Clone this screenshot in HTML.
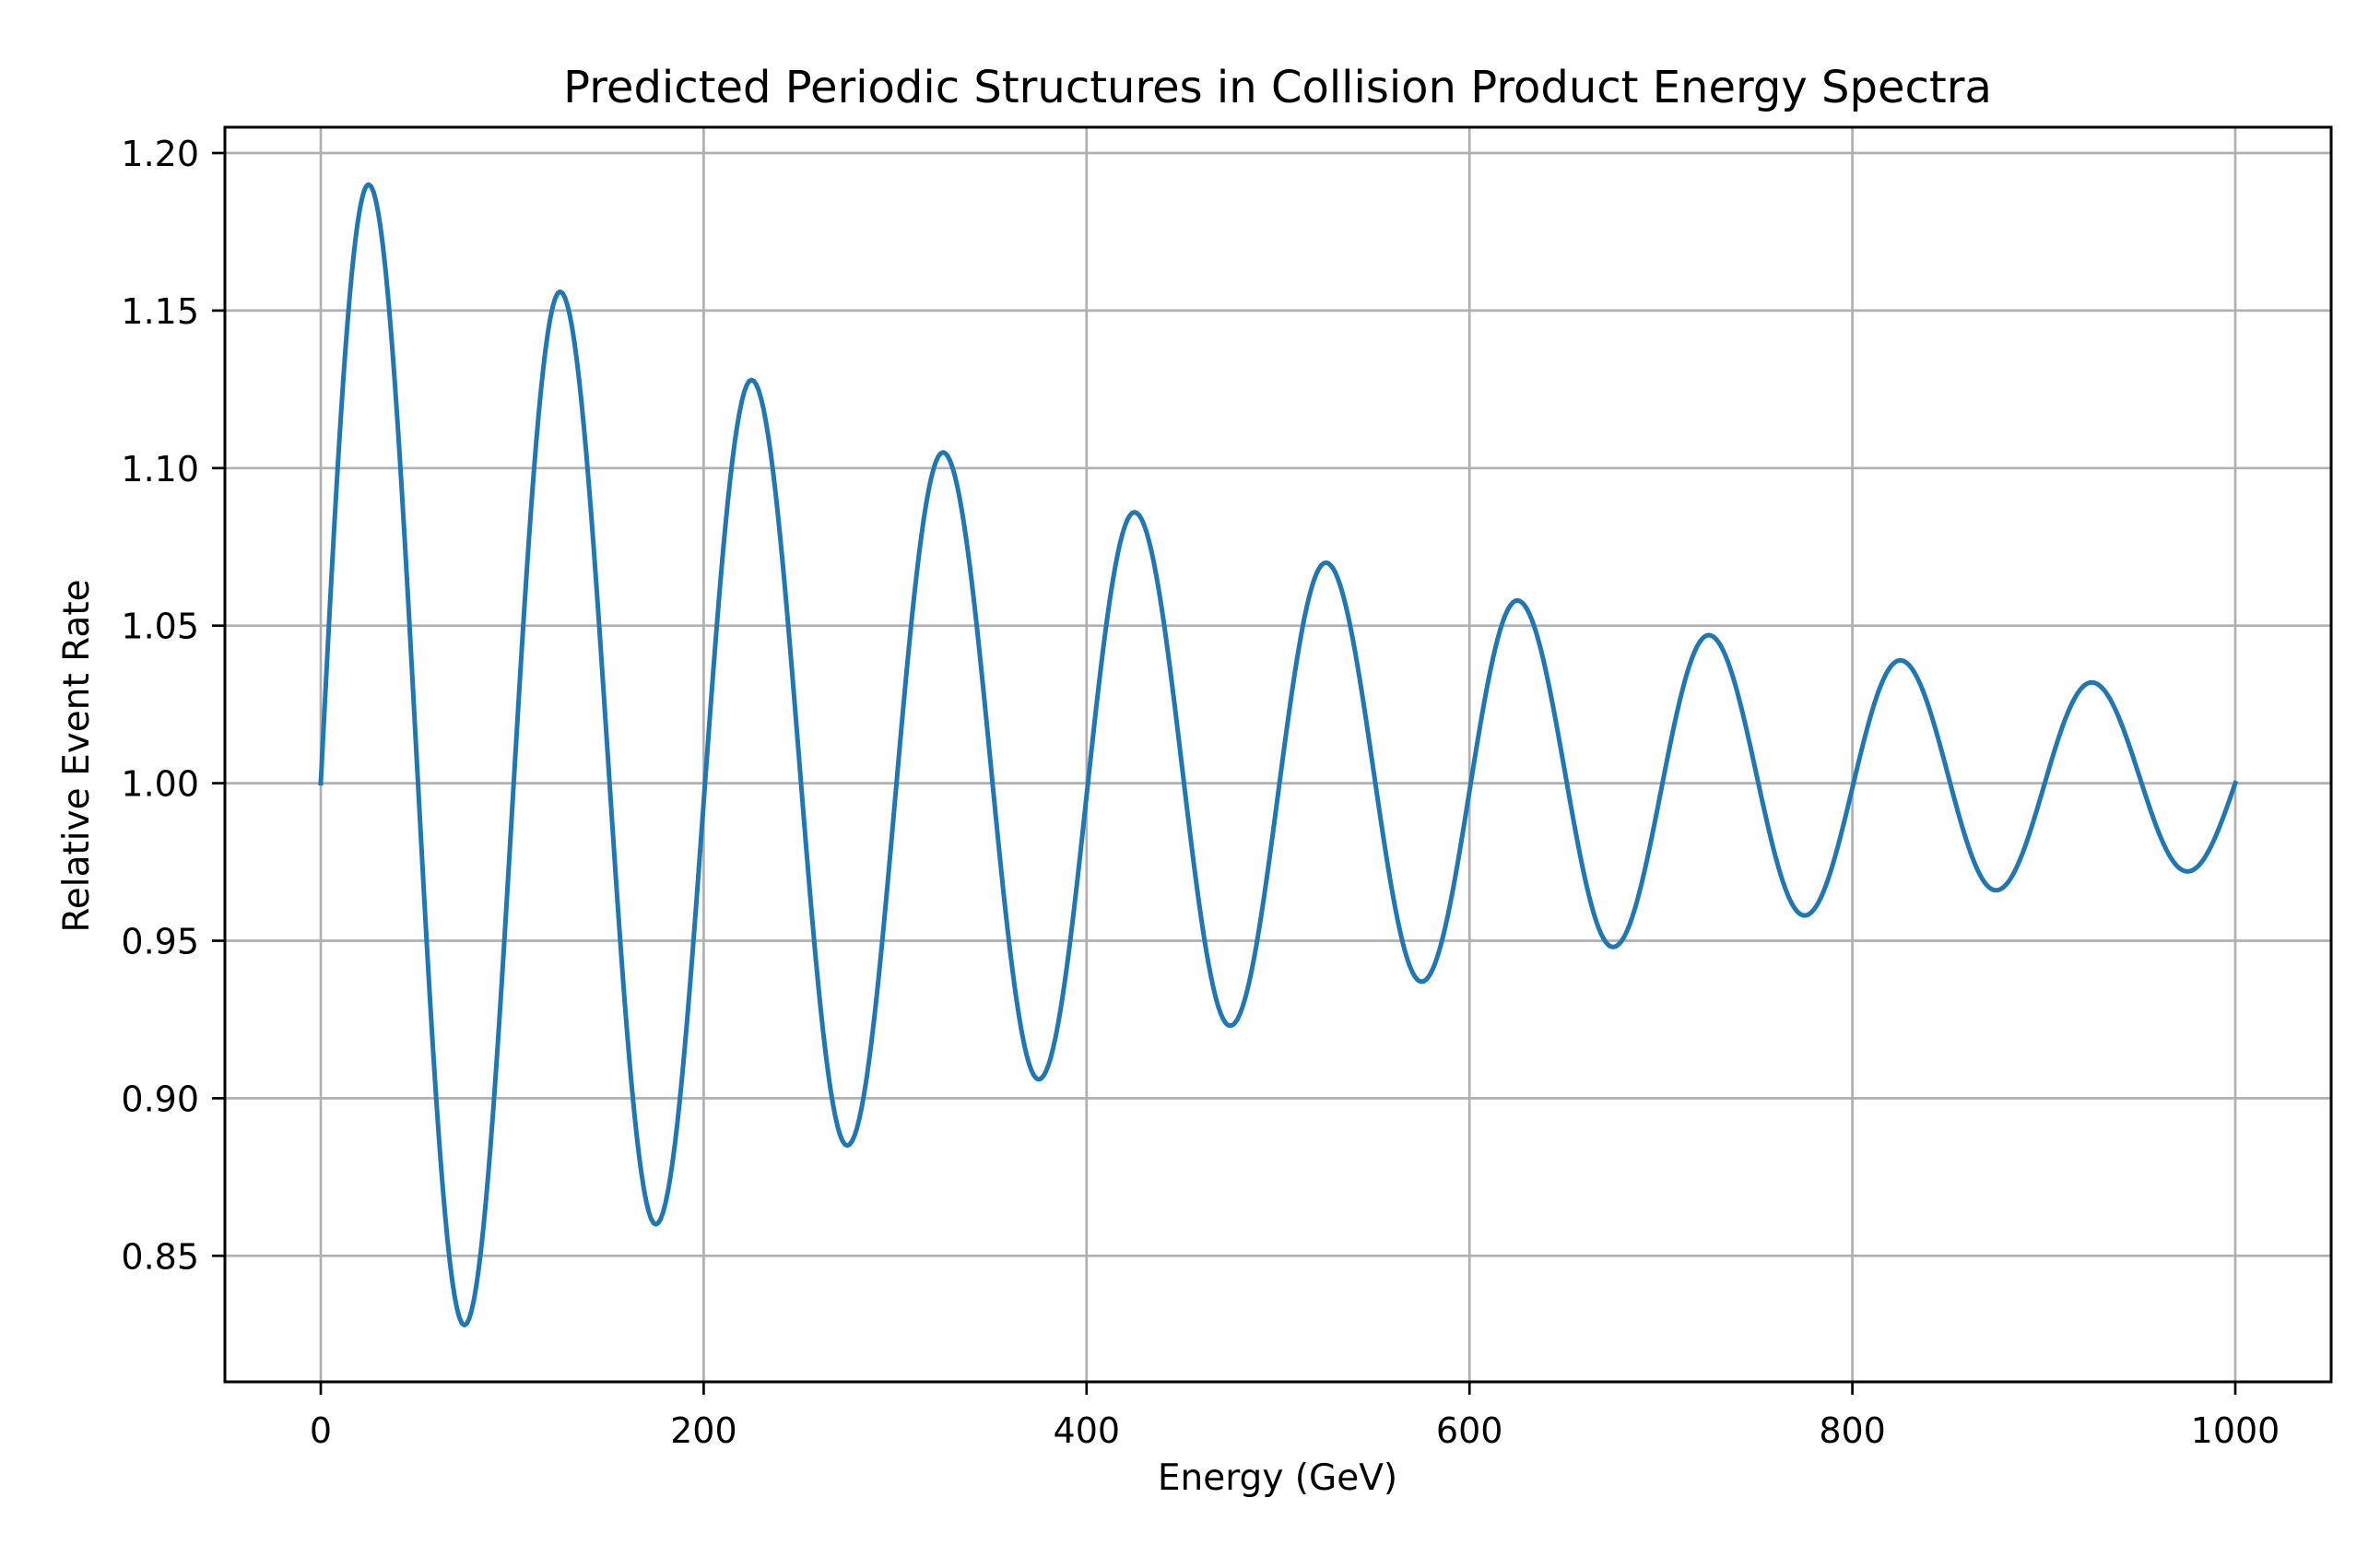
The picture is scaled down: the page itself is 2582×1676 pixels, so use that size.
<!DOCTYPE html>
<html><head><meta charset="utf-8"><style>
html,body{margin:0;padding:0;background:#fff;}
svg{display:block;font-family:"DejaVu Sans","Liberation Sans",sans-serif;}
</style></head><body>
<svg id="chart" width="2582" height="1676" viewBox="0 0 2582 1676">
<rect x="0" y="0" width="2582" height="1676" fill="#fff"/>
<g id="grid"></g>
<g id="series"></g>
<rect x="244" y="138" width="2285" height="1361" fill="none" stroke="#000" stroke-width="3"/>
<g id="ticks"></g>
<text x="1386" y="111" font-size="48" text-anchor="middle" fill="#000">Predicted Periodic Structures in Collision Product Energy Spectra</text>
<text x="1386" y="1616" font-size="39" text-anchor="middle" fill="#000">Energy (GeV)</text>
<text x="0" y="0" font-size="39" text-anchor="middle" fill="#000" transform="translate(96,820) rotate(-90)">Relative Event Rate</text>
</svg>
<script>
const xTicks=[0,200,400,600,800,1000];
const xTickLabels=["0","200","400","600","800","1000"];
const yTicks=[0.85,0.90,0.95,1.00,1.05,1.10,1.15,1.20];
const yTickLabels=["0.85","0.90","0.95","1.00","1.05","1.10","1.15","1.20"];
const extremaX=[25,75,125,175,225,275,325,375,425,475,525,575,625,675,725,775,825,875,925,975];
const extremaY=[1.190,0.828,1.156,0.860,1.128,0.885,1.105,0.906,1.086,0.923,1.070,0.937,1.058,0.948,1.047,0.958,1.039,0.966,1.032,0.972];
const startPoint=[0,1.0];
const endPoint=[1000,1.0];

const X0=348,X1=2425,Y120=166,PX05=170.9;
function sx(v){return X0+(v)*(X1-X0)/1000;}
function sy(v){return Y120+(1.20-v)/0.05*PX05;}
const NS="http://www.w3.org/2000/svg";
const grid=document.getElementById('grid'),ticks=document.getElementById('ticks'),series=document.getElementById('series');
function mk(t,a){const e=document.createElementNS(NS,t);for(const k in a)e.setAttribute(k,a[k]);return e;}
xTicks.forEach((v,i)=>{
  const g=mk('line',{x1:sx(v),x2:sx(v),y1:138,y2:1499,stroke:'#b0b0b0','stroke-width':2.7});
  
  
  grid.appendChild(g);
  const t=mk('line',{x1:sx(v),x2:sx(v),y1:1499,y2:1513,stroke:'#000','stroke-width':2.7});
  
  
  ticks.appendChild(t);
  const l=mk('text',{x:sx(v),y:1565,'font-size':38,'text-anchor':'middle',fill:'#000'});
  l.textContent=xTickLabels[i];
  
  
  ticks.appendChild(l);
});
yTicks.forEach((v,i)=>{
  const g=mk('line',{x1:244,x2:2529,y1:sy(v),y2:sy(v),stroke:'#b0b0b0','stroke-width':2.7});
  
  
  grid.appendChild(g);
  const t=mk('line',{x1:230,x2:244,y1:sy(v),y2:sy(v),stroke:'#000','stroke-width':2.7});
  
  
  ticks.appendChild(t);
  const l=mk('text',{x:216,y:sy(v)+14,'font-size':38,'text-anchor':'end',fill:'#000'});
  l.textContent=yTickLabels[i];
  
  
  ticks.appendChild(l);
});
const px=[startPoint[0]].concat(extremaX,[endPoint[0]]);
const py=[startPoint[1]].concat(extremaY,[endPoint[1]]);
let d='';
for(let s=0;s<px.length-1;s++){
  const xa=px[s],xb=px[s+1],ya=py[s],yb=py[s+1];
  const N=40;
  for(let k=0;k<=N;k++){
    if(s>0&&k===0)continue;
    const t=k/N;let y;
    if(s===0) y=ya+(yb-ya)*Math.sin(Math.PI/2*t);
    else if(s===px.length-2) y=ya+(yb-ya)*(1-Math.cos(Math.PI/2*t));
    else y=ya+(yb-ya)*(1-Math.cos(Math.PI*t))/2;
    const x=xa+(xb-xa)*t;
    d+=(d?'L':'M')+sx(x).toFixed(2)+','+sy(y).toFixed(2);
  }
}
const path=mk('path',{d:d,fill:'none',stroke:'#1f77b4','stroke-width':5,'stroke-linejoin':'round','stroke-linecap':'square'});


series.appendChild(path);
</script>
</body></html>
